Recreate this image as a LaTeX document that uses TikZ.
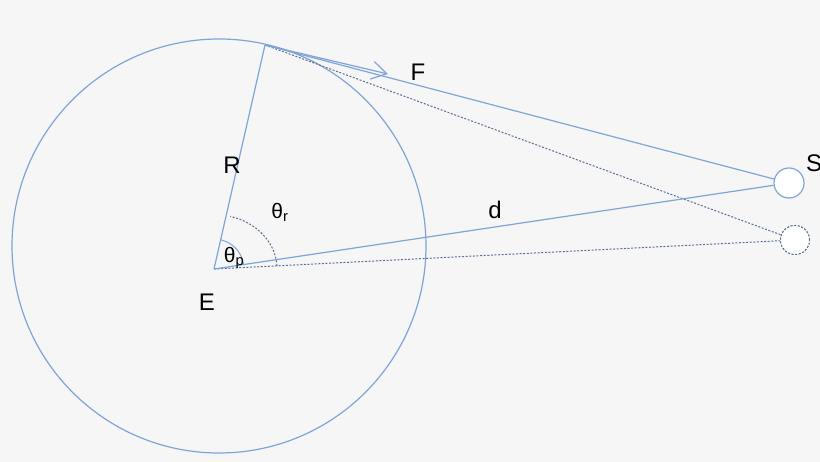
\documentclass[tikz,border=0pt]{standalone}
\usepackage{fontspec}
\setmainfont{Liberation Sans}
\usepackage{tikz}
\usetikzlibrary{positioning, calc, arrows.meta}

\definecolor{lineblue}{RGB}{126,165,216}
\definecolor{dotblue}{RGB}{92,112,148}
\definecolor{bggray}{RGB}{246,246,246}

\tikzset{
  solidline/.style={lineblue, line width=1.2pt},
  dotline/.style={dotblue, line width=1pt, dash pattern=on 2pt off 1.6pt},
  lbl/.style={inner sep=0pt, font=\fontsize{24}{28}\selectfont},
  anglbl/.style={inner sep=0pt, font=\fontsize{21}{24}\selectfont},
  satnode/.style={circle, draw=lineblue, fill=white, line width=1.2pt, minimum size=30pt, inner sep=0pt},
  satghost/.style={circle, draw=dotblue, fill=white, line width=1pt, dash pattern=on 2pt off 1.6pt, minimum size=29pt, inner sep=0pt}
}

\begin{document}
\begin{tikzpicture}[x=1pt, y=-1pt]
      \useasboundingbox (0,0) rectangle (820,462);
      \fill[bggray] (0,0) rectangle (820,462);

      \coordinate (C) at (219,246);     %circle centre
      \coordinate (E) at (214,269);     %observer
      \coordinate (P) at (265,45);      %point on surface
      \coordinate (Ftip) at (388,74);   %force arrow tip

      \draw[solidline] (C) circle[radius=207];

      \node[satghost] (S0) at (795,240) {};
      \draw[dotline] (P) -- (S0);
      \draw[dotline] (E) -- (S0);
      \node[satghost] at (S0) {};

      \draw[solidline] (E) -- (P);
      \node[satnode] (S) at (789,183) {};
      \draw[solidline] (P) -- (S);
      \draw[solidline] (E) -- (S);
      \draw[solidline, -{Straight Barb[length=15pt, width=18pt, line width=1.2pt]}] (P) -- (Ftip);

      % angles
      \draw[lineblue, line width=1pt] ($(E)+(8.5:30 and -30)$) arc[start angle=8.5, end angle=77.2, x radius=30, y radius=-30];
      \draw[dotline] ($(E)+(2.9:63 and -63)$) arc[start angle=2.9, end angle=75, x radius=63, y radius=-54];

      \node[lbl] (Flabel) at (418,72) {F};
      \node[lbl] (Rlabel) at (232,165) {R};
      \node[lbl] (dlabel) at (495,210) {d};
      \node[lbl] (Elabel) at (207,302) {E};
      \node[lbl, anchor=west] (Slabel) at (806,163) {S};
      \node[anglbl] (thr) at (280,212) {θ\textsubscript{r}};
      \node[anglbl] (thp) at (234,258) {θ\textsubscript{p}};
    \end{tikzpicture}
\end{document}
